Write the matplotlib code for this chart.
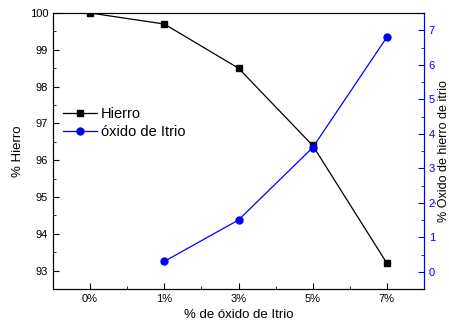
import numpy as np
import matplotlib.pyplot as plt
from matplotlib.ticker import MultipleLocator

plt.rcParams['font.family'] = ['Liberation Sans', 'DejaVu Sans']

# datos
categorias = ['0%', '1%', '3%', '5%', '7%']
hierro = [100.0, 99.7, 98.5, 96.4, 93.2]
oxido_cat = ['1%', '3%', '5%', '7%']
oxido = [0.3, 1.5, 3.6, 6.8]

x = np.arange(len(categorias))
x_ox = [categorias.index(c) for c in oxido_cat]

fig = plt.figure(figsize=(4.49, 3.28), dpi=100)
ax = fig.add_axes([53/449, 1 - 289/328, (424-53)/449, (289-13)/328])

l1, = ax.plot(x, hierro, 'k-', marker='s', ms=5, lw=0.9, label='Hierro')
ax.set_xlim(-0.5, 4.5)
ax.set_ylim(92.5, 100)
ax.set_xticks(x)
ax.set_xticklabels(categorias)
ax.xaxis.set_minor_locator(MultipleLocator(0.5))
ax.yaxis.set_major_locator(MultipleLocator(1))
ax.yaxis.set_minor_locator(MultipleLocator(0.5))
ax.tick_params(which='both', direction='in', labelsize=8, top=False)
ax.tick_params(which='major', length=4)
ax.tick_params(which='minor', length=2)
ax.set_xlabel('% de óxido de Itrio', fontsize=9.5)
ax.set_ylabel('% Hierro', fontsize=9.5)

ax2 = ax.twinx()
l2, = ax2.plot(x_ox, oxido, 'b-', marker='o', ms=5, lw=0.9, label='óxido de Itrio')
ax2.set_ylim(-0.5, 7.5)
ax2.yaxis.set_major_locator(MultipleLocator(1))
ax2.yaxis.set_minor_locator(MultipleLocator(0.5))
ax2.tick_params(which='both', direction='in', labelsize=8, colors='b')
ax2.tick_params(which='major', length=4)
ax2.tick_params(which='minor', length=2)
ax2.spines['right'].set_color('b')
ax2.set_ylabel('% Óxido de hierro de itrio', fontsize=9, color='k', labelpad=2)

ax.legend(handles=[l1, l2], loc='upper left', bbox_to_anchor=(0.0, 0.695),
          frameon=False, fontsize=10.5, handlelength=2.3, borderaxespad=0.3,
          labelspacing=0.25, handletextpad=0.3)

fig.savefig('out.png', dpi=100)
